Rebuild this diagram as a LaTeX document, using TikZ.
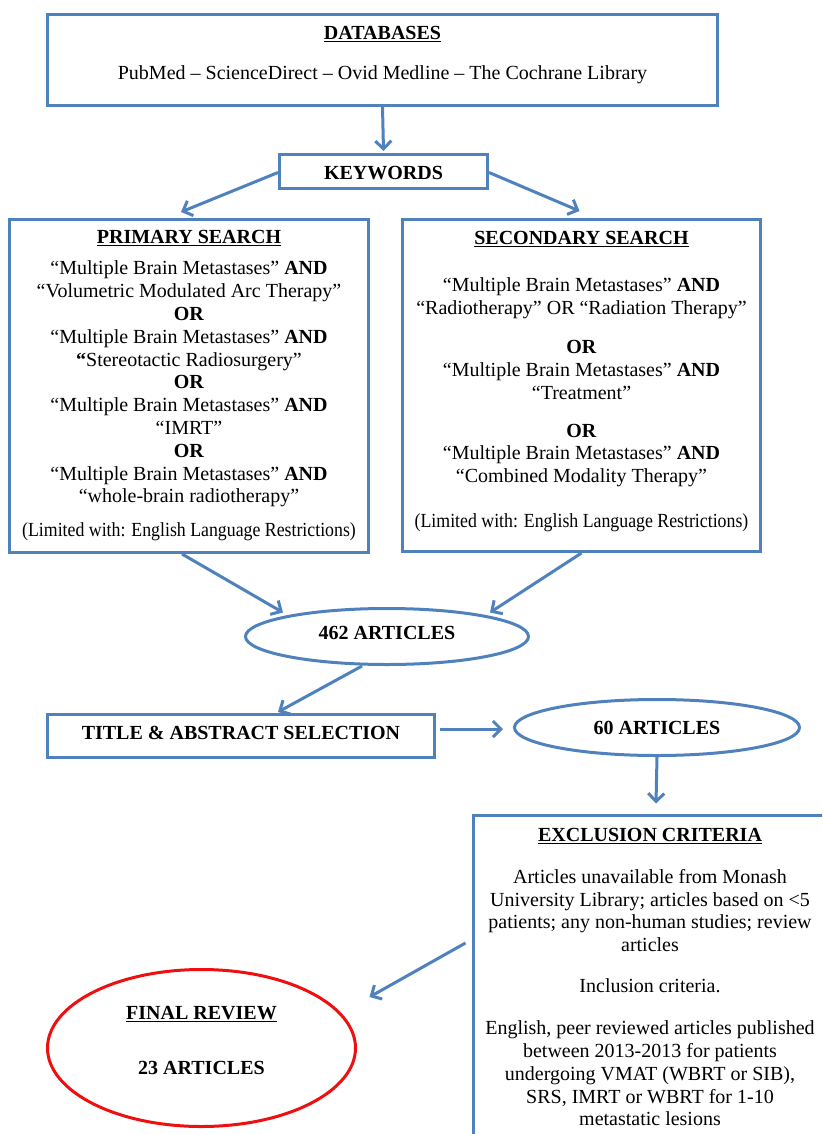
\documentclass[tikz,border=0pt]{standalone}
\usepackage{fontspec}
\usepackage{graphicx}
\setmainfont{Liberation Serif}
\usetikzlibrary{shapes.geometric,arrows.meta}
\definecolor{boxblue}{RGB}{79,129,189}
\definecolor{finalred}{RGB}{238,16,16}
\newcommand{\head}[1]{\textbf{\underline{#1}}}
\newcommand{\squeeze}[1]{\scalebox{0.89}[1]{#1}}
\newcommand{\lift}[1]{\rule[-#1]{0pt}{0pt}}

\begin{document}
\begin{tikzpicture}[x=1pt,y=-1pt]
  \tikzstyle{box}=[draw=boxblue,line width=3pt,align=center,inner sep=0pt,
                   font=\fontsize{20}{22.8}\selectfont]
  \tikzstyle{oval}=[box,ellipse]
  \tikzstyle{arr}=[draw=boxblue,line width=3pt,-{Straight Barb[length=8pt,width=16pt]}]

  \useasboundingbox (0,0) rectangle (822,1134);
  \clip (0,0) rectangle (822,1134);

  % search stage
  \node[box,minimum width=670pt,minimum height=91pt] (db) at (382.5,60)
    {\head{DATABASES}\\[17.2pt]
     PubMed – ScienceDirect – Ovid Medline – The Cochrane Library\lift{15pt}};
  \node[box,minimum width=208pt,minimum height=34pt] (kw) at (383.5,171.5)
    {\rule{0pt}{17pt}\textbf{KEYWORDS}};

  \node[box,minimum width=359pt,minimum height=333pt] (prim) at (189,386)
    {\head{PRIMARY SEARCH}\\[8.2pt]
     “Multiple Brain Metastases” \textbf{AND}\\
     “Volumetric Modulated Arc Therapy”\\
     \textbf{OR}\\
     “Multiple Brain Metastases” \textbf{AND}\\
     \textbf{“}Stereotactic Radiosurgery”\\
     \textbf{OR}\\
     “Multiple Brain Metastases” \textbf{AND}\\
     “IMRT”\\
     \textbf{OR}\\
     “Multiple Brain Metastases” \textbf{AND}\\
     “whole-brain radiotherapy”\\[11.2pt]
     \squeeze{(Limited with: English Language Restrictions)}};

  \node[box,minimum width=358pt,minimum height=332pt] (sec) at (581.5,385.5)
    {\head{SECONDARY SEARCH}\\[24.2pt]
     “Multiple Brain Metastases” \textbf{AND}\\
     “Radiotherapy” OR “Radiation Therapy”\\[16.2pt]
     \textbf{OR}\\
     “Multiple Brain Metastases” \textbf{AND}\\
     “Treatment”\\[15.2pt]
     \textbf{OR}\\
     “Multiple Brain Metastases” \textbf{AND}\\
     “Combined Modality Therapy”\\[22.2pt]
     \squeeze{(Limited with: English Language Restrictions)}\lift{12pt}};

  % screening stage
  \node[oval,minimum width=283pt,minimum height=56pt] (n462) at (387,636.5)
    {\textbf{462 ARTICLES}\lift{8pt}};
  \node[box,minimum width=387pt,minimum height=43pt] (title) at (241,736)
    {\textbf{TITLE \& ABSTRACT SELECTION}\lift{6pt}};
  \node[oval,minimum width=285pt,minimum height=56pt] (n60) at (657,727.5)
    {\textbf{60 ARTICLES}};

  \node[box,minimum width=354pt,minimum height=324pt] (excl) at (650,977)
    {\head{EXCLUSION CRITERIA}\\[19.2pt]
     Articles unavailable from Monash\\
     University Library; articles based on <5\\
     patients; any non-human studies; review\\
     articles\\[18.2pt]
     Inclusion criteria.\\[19.2pt]
     English, peer reviewed articles published\\
     between 2013-2013 for patients\\
     undergoing VMAT (WBRT or SIB),\\
     SRS, IMRT or WBRT for 1-10\\
     metastatic lesions};

  \node[oval,draw=finalred,minimum width=308pt,minimum height=157pt] (final) at (201.5,1048)
    {\head{FINAL REVIEW}\\[32.2pt]
     \textbf{23 ARTICLES}\lift{16pt}};

  % connectors
  \draw[arr] (db.south) -- ([yshift=2pt]kw.north);
  \draw[arr] ([yshift=-1pt]kw.west) -- ([xshift=-8pt,yshift=6pt]prim.north);
  \draw[arr] ([yshift=-1pt]kw.east) -- ([xshift=-2pt,yshift=7pt]sec.north);
  \draw[arr] ([xshift=-7pt]prim.south) -- ([xshift=-104pt,yshift=24pt]n462.center);
  \draw[arr] (sec.south) -- ([xshift=103pt,yshift=24pt]n462.center);
  \draw[arr] ([xshift=-25pt]n462.south) -- ([xshift=37pt,yshift=1pt]title.north);
  \draw[arr] ([xshift=4pt,yshift=7pt]title.east) -- ([xshift=-10pt,yshift=-1.5pt]n60.west);
  \draw[arr] (n60.south) -- ([xshift=6pt,yshift=10pt]excl.north);
  \draw[arr] ([xshift=-6pt,yshift=34pt]excl.west) -- ([xshift=168pt,yshift=51pt]final.center);
\end{tikzpicture}
\end{document}
